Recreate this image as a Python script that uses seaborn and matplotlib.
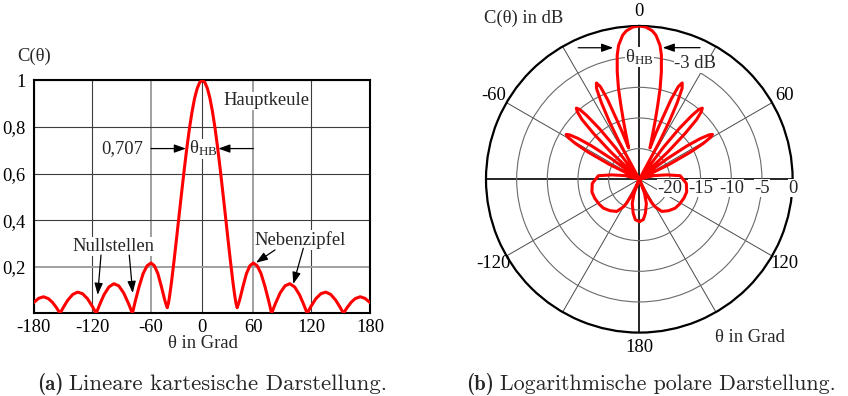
import numpy as np
import pandas as pd
import matplotlib
matplotlib.use("Agg")
import matplotlib.pyplot as plt
import seaborn as sns

# ---------------- data ----------------
# (a) linear pattern C(theta)
lin_theta = [-180, -175, -170, -165, -161, -157, -153, -149, -145, -140, -135, -130,
             -125, -120, -116, -112, -108, -103, -98, -93, -88, -83, -79, -76, -72,
             -68, -64, -60, -56, -52, -48, -44, -42.5, -41, -39.5, -38, -36, -33,
             -30, -27, -24, -21, -18, -15, -12, -9, -6, -3, 0,
             3, 6, 9, 12, 15, 18, 21, 24, 27, 30, 33, 36, 38, 39.5, 41, 42.5, 44,
             48, 52, 56, 60, 64, 68, 72, 76, 79, 83, 88, 93, 98, 103, 108, 112,
             116, 120, 125, 130, 135, 140, 145, 149, 153, 157, 161, 165, 170, 175, 180]
lin_c = [0.046, 0.064, 0.071, 0.063, 0.048, 0.026, 0.0, 0.030, 0.057, 0.081, 0.091, 0.084,
         0.063, 0.030, 0.0, 0.042, 0.080, 0.113, 0.127, 0.118, 0.088, 0.042, 0.0, 0.053, 0.117,
         0.171, 0.204, 0.216, 0.204, 0.171, 0.117, 0.058, 0.040, 0.024, 0.045, 0.080, 0.135, 0.227,
         0.325, 0.425, 0.524, 0.621, 0.712, 0.794, 0.865, 0.923, 0.965, 0.991, 1.0,
         0.991, 0.965, 0.923, 0.865, 0.794, 0.712, 0.621, 0.524, 0.425, 0.325, 0.227, 0.135, 0.080,
         0.045, 0.024, 0.040, 0.058,
         0.117, 0.171, 0.204, 0.216, 0.204, 0.171, 0.117, 0.053, 0.0, 0.042, 0.088, 0.118, 0.127,
         0.113, 0.080, 0.042, 0.0, 0.030, 0.063, 0.084, 0.091, 0.081, 0.057, 0.030, 0.0, 0.026,
         0.048, 0.063, 0.071, 0.064, 0.046]
lin_xticks = [-180, -120, -60, 0, 60, 120, 180]
lin_xticklabels = ["-180", "-120", "-60", "0", "60", "120", "180"]
lin_yticks = [0.2, 0.4, 0.6, 0.8, 1.0]
lin_yticklabels = ["0,2", "0,4", "0,6", "0,8", "1"]

# (b) polar pattern in dB (angle in degrees, clockwise from top)
pol_angle = [-180, -174.3, -169.7, -163.7, -159.5, -157.5, -155.0, -152.0, -150.0, -145.0,
             -137.0, -129.0, -122.0, -113.0, -105.0, -95.0, -85.0, -81.0, -75.5, -70.0,
             -63.5, -62.0, -60.7, -59.5, -58.5, -57.5, -56.3, -55.0, -53.5, -49.5,
             -46.2, -45.0, -43.8, -42.5, -41.5, -40.5, -39.5, -38.2, -37.0, -32.5,
             -28.3, -27.4, -26.3, -25.2, -24.0, -22.8, -21.7, -20.7, -19.8, -18.8,
             -17.0, -15.3, -14.0, -12.9, -11.6, -10.1, -8.8, -6.6, -5.0, -2.5, 0,
             2.5, 5.0, 6.6, 8.8, 10.1, 11.6, 12.9, 14.0, 15.3, 17.0,
             18.8, 19.8, 20.7, 21.7, 22.8, 24.0, 25.2, 26.3, 27.4, 28.3,
             32.5, 37.0, 38.2, 39.5, 40.5, 41.5, 42.5, 43.8, 45.0, 46.2,
             49.5, 53.5, 55.0, 56.3, 57.5, 58.5, 59.5, 60.7, 62.0, 63.5,
             70.0, 75.5, 81.0, 85.0, 95.0, 105.0, 113.0, 122.0, 129.0, 137.0,
             145.0, 150.0, 152.0, 155.0, 157.5, 159.5, 163.7, 169.7, 174.3, 180]
pol_db = [-18.1, -18.4, -19.4, -20.9, -22.6, -25, -22.5, -20.6, -19.8, -18.6,
          -18.0, -17.5, -17.3, -17.1, -17.0, -17.3, -18.3, -20.4, -22.6, -25,
          -19.5, -15.5, -13.0, -11.5, -11.0, -11.5, -13.0, -15.5, -19.5, -25,
          -18.5, -14.5, -11.5, -10.0, -9.5, -10.0, -11.5, -14.5, -18.5, -25,
          -18.0, -14.3, -11.0, -8.6, -7.8, -8.6, -11.0, -14.7, -17.0, -19.6,
          -18.0, -15.3, -12.6, -9.8, -7.1, -4.45, -2.9, -1.35, -0.7, -0.15, 0,
          -0.15, -0.7, -1.35, -2.9, -4.45, -7.1, -9.8, -12.6, -15.3, -18.0,
          -19.6, -17.0, -14.7, -11.0, -8.6, -7.8, -8.6, -11.0, -14.3, -18.0,
          -25, -18.5, -14.5, -11.5, -10.0, -9.5, -10.0, -11.5, -14.5, -18.5,
          -25, -19.5, -15.5, -13.0, -11.5, -11.0, -11.5, -13.0, -15.5, -19.5,
          -25, -22.6, -20.4, -18.3, -17.3, -17.0, -17.1, -17.3, -17.5, -18.0,
          -18.6, -19.8, -20.6, -22.5, -25, -22.6, -20.9, -19.4, -18.4, -18.1]
pol_rticks = [-20, -15, -10, -5, 0]
pol_rticklabels = ["-20", "-15", "-10", "-5", "0"]
pol_tticks = [0, 30, 60, 90, 120, 150, 180, 210, 240, 270, 300, 330]
pol_tticklabels = ["0", "", "60", "", "120", "", "180", "", "-120", "", "-60", ""]

# ---------------- style ----------------
sns.set_theme(style="white")
plt.rcParams["font.family"] = ["Liberation Serif", "DejaVu Serif"]
plt.rcParams["mathtext.fontset"] = "custom"
plt.rcParams["mathtext.rm"] = "Liberation Serif"
plt.rcParams["mathtext.it"] = "Liberation Serif:italic"
plt.rcParams["axes.unicode_minus"] = False

FS = 13.4
RED = "#ff0000"
W, H = 848, 396
# the drawn x grid of panel (a) is not evenly spaced: offsets (px) of its gridlines
X_GRID_PX = [0, 58.6, 117.3, 168.6, 219.6, 277.3, 336.3]


def fpos(x, y):
    return x / W, 1 - y / H


WHITE = dict(facecolor="white", edgecolor="none", pad=0.6)
ARROW = dict(arrowstyle="-|>,head_length=0.7,head_width=0.25", color="black",
             lw=0.9, shrinkA=0, shrinkB=0, mutation_scale=10)

fig = plt.figure(figsize=(W / 100, H / 100), dpi=100)
fig.patch.set_facecolor("white")

# ---------------- (a) linear ----------------
ax1 = fig.add_axes([33.7 / W, 1 - 313.3 / H, (370 - 33.7) / W, 233.0 / H])
tv = np.array(lin_xticks, float)
tp = np.array(X_GRID_PX, float)
ax1.set_xscale("function", functions=(lambda x: np.interp(x, tv, tp),
                                      lambda u: np.interp(u, tp, tv)))
df1 = pd.DataFrame({"theta": lin_theta, "C": lin_c})
sns.lineplot(data=df1, x="theta", y="C", ax=ax1, color=RED, linewidth=2.2,
             sort=False, estimator=None, zorder=4)
ax1.set_xlim(-180, 180)
ax1.set_ylim(0, 1)
ax1.set_xticks(lin_xticks)
ax1.set_xticklabels(lin_xticklabels)
ax1.set_yticks(lin_yticks)
ax1.set_yticklabels(lin_yticklabels)
ax1.xaxis.set_minor_locator(matplotlib.ticker.NullLocator())
ax1.tick_params(length=0, labelsize=FS, colors="black")
ax1.tick_params(axis="x", pad=4)
ax1.tick_params(axis="y", pad=6)
ax1.set_xlabel("")
ax1.set_ylabel("")
ax1.set_axisbelow(True)
ax1.grid(True, color="#3c3c3c", lw=0.8)
for i in (2, 4):
    ax1.xaxis.get_gridlines()[i].set_color("#a0a0a0")
    ax1.xaxis.get_gridlines()[i].set_linewidth(1.4)
ax1.yaxis.get_gridlines()[0].set_color("#a0a0a0")
ax1.yaxis.get_gridlines()[0].set_linewidth(1.4)
for s in ax1.spines.values():
    s.set_color("black")
    s.set_linewidth(1.5)
    s.set_visible(True)

ax1.text(24.3, 0.912, "Hauptkeule", fontsize=FS, ha="left", va="center",
         bbox=WHITE, zorder=3)
ax1.text(-67.9, 0.707, "0,707", fontsize=FS, ha="right", va="center", zorder=3)
ax1.text(1.2, 0.707, "θ$_\\mathrm{HB}$", fontsize=FS, ha="center", va="center",
         bbox=dict(facecolor="white", edgecolor="none", pad=0.2), zorder=3)
ax1.annotate("", xy=(-19.1, 0.707), xytext=(-60, 0.707), arrowprops=ARROW, zorder=3)
ax1.annotate("", xy=(18.8, 0.707), xytext=(60, 0.707), arrowprops=ARROW, zorder=3)
ax1.text(-98.8, 0.286, "Nullstellen", fontsize=FS, ha="center", va="center",
         bbox=WHITE, zorder=3)
ax1.annotate("", xy=(-114.5, 0.079), xytext=(-111.1, 0.25), arrowprops=ARROW, zorder=3)
ax1.annotate("", xy=(-78.7, 0.087), xytext=(-82.2, 0.25), arrowprops=ARROW, zorder=3)
ax1.text(108.5, 0.315, "Nebenzipfel", fontsize=FS, ha="center", va="center",
         bbox=WHITE, zorder=3)
ax1.annotate("", xy=(62.8, 0.217), xytext=(82.6, 0.272), arrowprops=ARROW, zorder=3)
ax1.annotate("", xy=(101.6, 0.126), xytext=(112, 0.279), arrowprops=ARROW, zorder=3)

fig.text(*fpos(33.7, 56), "C(θ)", fontsize=FS, ha="center", va="center")
fig.text(*fpos(203, 343), "θ in Grad", fontsize=FS, ha="center", va="center")

# ---------------- (b) polar ----------------
R = 153.3
cx, cy = 639.3, 179.3
ax2 = fig.add_axes([(cx - R) / W, 1 - (cy + R) / H, 2 * R / W, 2 * R / H],
                   projection="polar")
ax2.set_theta_zero_location("N")
ax2.set_theta_direction(-1)
df2 = pd.DataFrame({"phi": np.deg2rad(pol_angle), "dB": pol_db})
sns.lineplot(data=df2, x="phi", y="dB", ax=ax2, color=RED, linewidth=2.2,
             sort=False, estimator=None, zorder=4)
ax2.set_ylim(-25, 0)
ax2.set_yticks(pol_rticks)
ax2.set_yticklabels([])
ax2.set_xticks(np.deg2rad(pol_tticks))
ax2.set_xticklabels(pol_tticklabels)
ax2.tick_params(axis="x", labelsize=FS, pad=-2.5, colors="black")
ax2.set_xlabel("")
ax2.set_ylabel("")
ax2.grid(True)
for gl in ax2.xaxis.get_gridlines():
    gl.set_color("#4a4a4a")
    gl.set_linewidth(0.7)
for i in (0, 3, 6, 9):
    ax2.xaxis.get_gridlines()[i].set_color("black")
    ax2.xaxis.get_gridlines()[i].set_linewidth(1.2)
for gl in ax2.yaxis.get_gridlines():
    gl.set_color("#6a6a6a")
    gl.set_linewidth(0.8)
ax2.spines["polar"].set_color("black")
ax2.spines["polar"].set_linewidth(1.6)

for r, lab in zip(pol_rticks, pol_rticklabels):
    ax2.annotate(lab, xy=(np.pi / 2, r), xytext=(0, -6.5), textcoords="offset points",
                 ha="center", va="center", fontsize=FS, annotation_clip=False,
                 bbox=dict(facecolor="white", edgecolor="none", pad=0.3), zorder=3)

ax2.annotate("", xy=(np.deg2rad(-11.2), -3.13), xytext=(np.deg2rad(-24.9), -1.35),
             arrowprops=ARROW, zorder=5)
ax2.annotate("", xy=(np.deg2rad(10.06), -3.2), xytext=(np.deg2rad(24.76), -1.36),
             arrowprops=ARROW, zorder=5)
fig.text(*fpos(639.5, 57), "θ$_\\mathrm{HB}$", fontsize=FS, ha="center", va="center",
         bbox=dict(facecolor="white", edgecolor="none", pad=0.2), zorder=3)
fig.text(*fpos(695, 64), "-3 dB", fontsize=FS, ha="center", va="center",
         bbox=dict(facecolor="white", edgecolor="none", pad=0.2), zorder=3)
fig.text(*fpos(524, 18), "C(θ) in dB", fontsize=FS, ha="center", va="center")
fig.text(*fpos(750, 338), "θ in Grad", fontsize=FS, ha="center", va="center")

# ---------------- captions ----------------
fig.text(*fpos(36.7, 390), "(a)", family="cmb10", fontsize=15, ha="left", va="baseline")
fig.text(*fpos(69.3, 390), "Lineare kartesische Darstellung.", family="cmr10",
         fontsize=16.4, ha="left", va="baseline")
fig.text(*fpos(466, 390), "(b)", family="cmb10", fontsize=15, ha="left", va="baseline")
fig.text(*fpos(500, 390), "Logarithmische polare Darstellung.", family="cmr10",
         fontsize=15.8, ha="left", va="baseline")

fig.savefig("out.png", dpi=100, facecolor="white")
